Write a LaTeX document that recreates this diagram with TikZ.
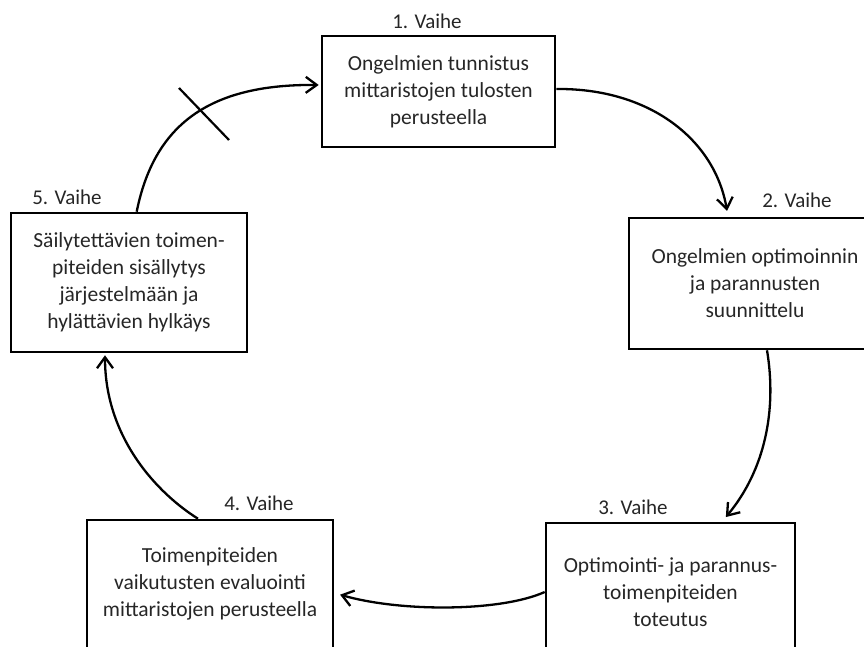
\documentclass[tikz,border=0pt]{standalone}
\usepackage{fontspec}
\setmainfont{Carlito}
\usetikzlibrary{arrows.meta}
\begin{document}
\begin{tikzpicture}[x=1pt,y=-1pt,
  stagebox/.style={draw=black, line width=2.6pt, inner sep=0pt, align=center,
    font=\fontsize{21.5}{27}\selectfont, text=black!85},
  stagelabel/.style={inner sep=0pt, font=\fontsize{21}{25}\selectfont, text=black!85},
  flow/.style={line width=2.3pt, -{Straight Barb[length=11pt,width=16pt]}},
  crossmark/.style={line width=2.2pt}]
\useasboundingbox (0,0) rectangle (864,646);
\clip (0,0) rectangle (864,646);
\node[stagebox, minimum width=233pt, minimum height=111pt] (b1) at (438.5,91.5)
  {Ongelmien tunnistus\\mittaristojen tulosten\\perusteella};
\node[stagebox, minimum width=252pt, minimum height=131pt] (b2) at (755,283.5)
  {Ongelmien optimoinnin\\ja parannusten\\suunnittelu};
\node[stagebox, minimum width=249pt, minimum height=138pt] (b3) at (670.5,592)
  {Optimointi- ja parannus-\\toimenpiteiden\\toteutus};
\node[stagebox, minimum width=246pt, minimum height=128pt] (b4) at (210,584)
  {Toimenpiteiden\\vaikutusten evaluointi\\mittaristojen perusteella};
\node[stagebox, minimum width=236pt, minimum height=139pt] (b5) at (129,282.5)
  {Säilytettävien toimen-\\piteiden sisällytys\\järjestelmään ja\\hylättävien hylkäys};
\node[stagelabel] (l1) at (427,21) {1. Vaihe};
\node[stagelabel] (l2) at (797,200) {2. Vaihe};
\node[stagelabel] (l3) at (633,507) {3. Vaihe};
\node[stagelabel] (l4) at (259,503) {4. Vaihe};
\node[stagelabel] (l5) at (67,197) {5. Vaihe};
% connectors
\draw[flow, shorten >=2pt] ([xshift=127pt]b5.north west) .. controls (155,120) and (215,84) .. ([yshift=6.5pt]b1.west);
\draw[crossmark] (179,88) -- (229,140);
\draw[flow, shorten >=6pt] ([yshift=2.5pt]b1.east) .. controls (650,88) and (715,140) .. ([xshift=-27pt]b2.north);
\draw[flow, shorten >=6pt] ([xshift=12pt]b2.south) .. controls (777,410) and (765,470) .. ([xshift=51.5pt]b3.north);
\draw[flow, shorten >=6pt] (b3.west) .. controls (500,612) and (400,612) .. ([yshift=-9pt]b4.east);
\draw[flow, shorten >=2pt] ([xshift=-12pt]b4.north) .. controls (160,495) and (105,440) .. ([xshift=-24pt]b5.south);
\end{tikzpicture}
\end{document}
